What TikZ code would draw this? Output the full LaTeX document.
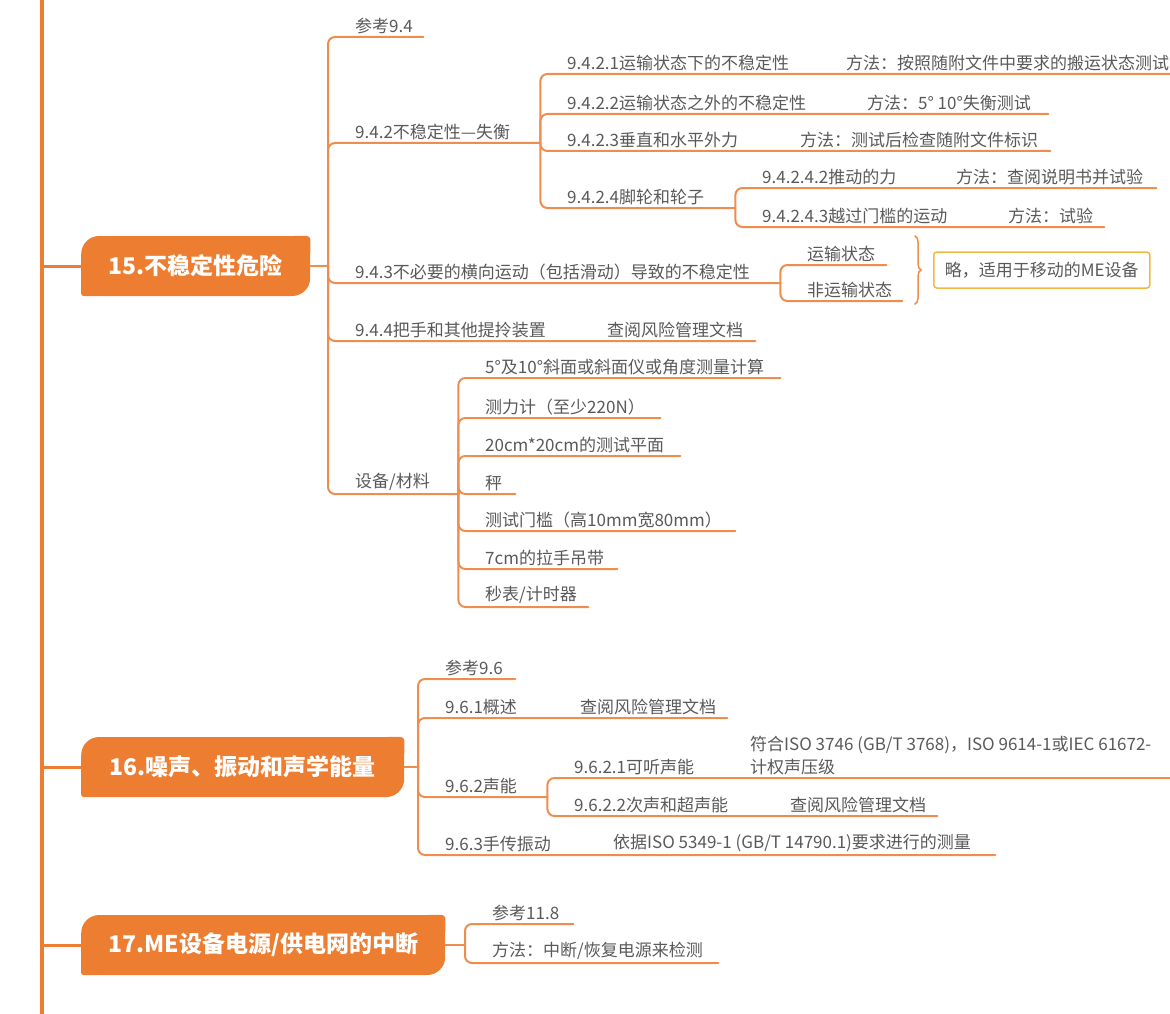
\documentclass[tikz,border=0pt]{standalone}
\usepackage{fontspec}
\setmainfont{Noto Sans CJK SC}
\usetikzlibrary{decorations.pathreplacing}

\definecolor{mmorange}{HTML}{ED7D31}
\definecolor{lnorange}{HTML}{EF8D4E}
\definecolor{txtgray}{HTML}{595959}
\definecolor{boxyel}{HTML}{F5B740}
\newcommand\leaffont{\fontsize{17}{23}\selectfont}
\newcommand\topicfont{\fontsize{23}{27}\selectfont\bfseries}
% name, parent, bracket x, y, end x, text
\newcommand\leaf[6]{\node[leaf,text width={#5-#3-27}] (#1) at (#3+27,#4) {#6};
  \draw[branch] (#2) |- (#1.south east);}

\begin{document}
\begin{tikzpicture}[x=1pt,y=-1pt,line cap=round,
  leaf/.style={anchor=south west,inner xsep=0pt,inner ysep=3pt,text=txtgray,font=\leaffont,align=left},
  branch/.style={draw=lnorange,line width=2pt,rounded corners=7pt},
  topic/.style={fill=mmorange,rounded corners=18pt,text=white,font=\topicfont,minimum height=60pt,inner xsep=0pt,anchor=west}]
\useasboundingbox (0,0) rectangle (1170,1014);
\coordinate (top) at (42,0);
\coordinate (bot) at (42,1014);
\draw[mmorange,line width=3.5pt,line cap=butt] (top) -- (bot);
\foreach \n/\y/\w/\t in {t15/266/229/{15.不稳定性危险},t16/767/323/{16.噪声、振动和声学能量},t17/945/364/{17.ME设备电源/供电网的中断}}{
  \node[topic,minimum width=\w pt] (\n) at (81,\y) {\t};
  \fill[mmorange,rounded corners=4pt] (\n.north east) rectangle ++(-20,20);
  \fill[mmorange,rounded corners=3pt] (\n.south west) rectangle ++(20,-20);
  \draw[mmorange,line width=3pt] (\n.west) -- (\n.west -| top);
}

% 15
\coordinate (b15) at (328,266);
\draw[branch] (t15.east) -- (b15);
\leaf{r94}{b15}{328}{37}{423}{参考9.4}
\leaf{p942}{b15}{328}{143}{540}{9.4.2不稳定性—失衡}
\leaf{c9421}{p942.south east}{540}{74}{1170}{9.4.2.1运输状态下的不稳定性}
\leaf{c9422}{p942.south east}{540}{114}{1048}{9.4.2.2运输状态之外的不稳定性}
\leaf{c9423}{p942.south east}{540}{151}{1050}{9.4.2.3垂直和水平外力}
\leaf{p9424}{p942.south east}{540}{208}{735}{9.4.2.4脚轮和轮子}
\leaf{c94242}{p9424.south east}{735}{188}{1156}{9.4.2.4.2推动的力}
\leaf{c94243}{p9424.south east}{735}{227}{1104}{9.4.2.4.3越过门槛的运动}
\foreach \n/\x/\y/\t in {m9421/846/74/{方法：按照随附文件中要求的搬运状态测试},m9422/867/114/{方法：5° 10°失衡测试},
  m9423/800/151/{方法：测试后检查随附文件标识},m94242/956/188/{方法：查阅说明书并试验},m94243/1008/227/{方法：试验}}
  \node[leaf] (\n) at (\x,\y) {\t};
\leaf{p943}{b15}{328}{283}{780}{9.4.3不必要的横向运动（包括滑动）导致的不稳定性}
\leaf{c943a}{p943.south east}{780}{265}{886}{运输状态}
\leaf{c943b}{p943.south east}{780}{301}{902}{非运输状态}
\coordinate (br1) at (915,236);
\coordinate (br2) at (915,304);
\draw[lnorange,line width=1.5pt,decorate,decoration={brace,amplitude=6pt}] (br1) -- (br2);
\node[draw=boxyel,line width=1.5pt,rounded corners=3pt,text=txtgray,font=\leaffont,
  minimum width=216pt,minimum height=36pt,anchor=west] (note) at (933,270) {略，适用于移动的ME设备};
\leaf{c944}{b15}{328}{341}{755}{9.4.4把手和其他提拎装置}
\node[leaf] (m944) at (607,341) {查阅风险管理文档};
\leaf{p95}{b15}{328}{494}{458}{设备/材料}
\foreach \n/\y/\e/\t in {e1/378/780/{5°及10°斜面或斜面仪或角度测量计算},e2/418/660/{测力计（至少220N）},
  e3/456/680/{20cm*20cm的测试平面},e4/494/515/{秤},e5/531/735/{测试门槛（高10mm宽80mm）},
  e6/569/617/{7cm的拉手吊带},e7/607/588/{秒表/计时器}}{
  \leaf{\n}{p95.south east}{458}{\y}{\e}{\t}
}

% 16
\coordinate (b16) at (418,767);
\draw[branch] (t16.east) -- (b16);
\leaf{r96}{b16}{418}{679}{515}{参考9.6}
\leaf{c961}{b16}{418}{718}{727}{9.6.1概述}
\node[leaf] (m961) at (580,718) {查阅风险管理文档};
\leaf{p962}{b16}{418}{797}{547}{9.6.2声能}
\leaf{c9621}{p962.south east}{547}{778}{1170}{9.6.2.1可听声能}
\node[leaf] (m9621) at (750,778) {符合ISO 3746 (GB/T 3768)，ISO 9614-1或IEC 61672-\\计权声压级};
\leaf{c9622}{p962.south east}{547}{816}{937}{9.6.2.2次声和超声能}
\node[leaf] (m9622) at (790,816) {查阅风险管理文档};
\leaf{c963}{b16}{418}{855}{995}{9.6.3手传振动}
\node[leaf] (m963) at (613,855) {依据ISO 5349-1 (GB/T 14790.1)要求进行的测量};

% 17
\coordinate (b17) at (465,945);
\draw[branch] (t17.east) -- (b17);
\leaf{r118}{b17}{465}{924}{573}{参考11.8}
\leaf{c17}{b17}{465}{963}{718}{方法：中断/恢复电源来检测}
\end{tikzpicture}
\end{document}
